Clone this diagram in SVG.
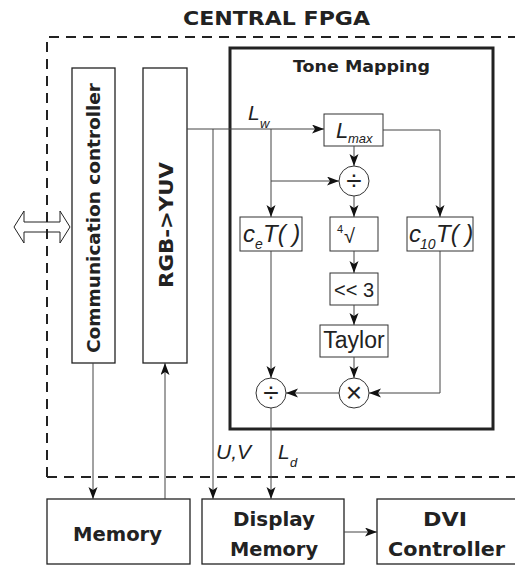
<svg xmlns="http://www.w3.org/2000/svg" width="515" height="565" viewBox="0 0 515 565">
<style>
text{font-family:"Liberation Sans",Arial,sans-serif;fill:#222}
.b{font-weight:bold;font-family:"DejaVu Sans","Liberation Sans",sans-serif}
.i{font-style:italic}
.box{fill:#fff;stroke:#222;stroke-width:1.3}
.sbox{fill:#fff;stroke:#333;stroke-width:1}
.ln{fill:none;stroke:#444;stroke-width:1}
.arr{marker-end:url(#ah)}
.dash{fill:none;stroke:#222;stroke-width:2;stroke-dasharray:10 7}
</style>
<defs>
<marker id="ah" markerUnits="userSpaceOnUse" markerWidth="13" markerHeight="10" refX="12" refY="4.5" orient="auto">
<path d="M0,0 L12,4.5 L0,9 L3,4.5 z" fill="#111"/>
</marker>
</defs>

<text class="b" x="183" y="25" font-size="20" textLength="187" lengthAdjust="spacingAndGlyphs">CENTRAL FPGA</text>

<g id="io-arrow">
<polygon points="14,227 24,211 24,222 60,222 60,211 70,227 60,243 60,232 24,232 24,243" fill="#fff" stroke="#222" stroke-width="1"/>
</g>

<g id="fpga-boundary">
<path class="dash" d="M47,477 V37 H515"/>
<path class="dash" d="M47,477 H515"/>
</g>

<g id="tone-mapping">
<rect x="230" y="48" width="263" height="381" fill="none" stroke="#222" stroke-width="3"/>
<text class="b" x="293" y="72" font-size="16" textLength="137" lengthAdjust="spacingAndGlyphs">Tone Mapping</text>
</g>

<g id="comm-controller">
<rect class="box" x="72" y="68" width="43" height="295"/>
<text class="b" transform="translate(100,218) rotate(-90)" text-anchor="middle" font-size="18" textLength="270" lengthAdjust="spacingAndGlyphs">Communication controller</text>
</g>

<g id="rgb-yuv">
<rect class="box" x="143" y="68" width="44" height="295"/>
<text class="b" transform="translate(173,225) rotate(-90)" text-anchor="middle" font-size="20" textLength="126" lengthAdjust="spacingAndGlyphs">RGB-&gt;YUV</text>
</g>

<g id="lmax">
<rect class="sbox" x="324" y="114" width="59" height="32"/>
<text class="i" x="336" y="138" font-size="22">L</text>
<text class="i" x="348" y="143" font-size="13">max</text>
</g>

<g id="div1">
<circle cx="354" cy="181" r="15" fill="#fff" stroke="#333" stroke-width="1"/>
<text x="354" y="190" font-size="28" text-anchor="middle">÷</text>
</g>

<g id="ceT">
<rect class="sbox" x="240" y="217" width="62" height="34"/>
<text class="i" x="243" y="242" font-size="24">c</text>
<text class="i" x="255" y="249" font-size="14">e</text>
<text class="i" x="263" y="242" font-size="24">T( )</text>
</g>

<g id="root4">
<rect class="sbox" x="330" y="217" width="48" height="34"/>
<text x="337" y="233" font-size="11">4</text>
<text x="344" y="243" font-size="20">√</text>
</g>

<g id="c10T">
<rect class="sbox" x="407" y="217" width="66" height="34"/>
<text class="i" x="409" y="242" font-size="24">c</text>
<text class="i" x="420" y="249" font-size="14">10</text>
<text class="i" x="436" y="242" font-size="24">T( )</text>
</g>

<g id="shift3">
<rect class="sbox" x="330" y="273" width="48" height="32"/>
<text x="354" y="297" font-size="20" text-anchor="middle">&lt;&lt; 3</text>
</g>

<g id="taylor">
<rect class="sbox" x="320" y="325" width="68" height="32"/>
<text x="354" y="348" font-size="23" text-anchor="middle">Taylor</text>
</g>

<g id="mul">
<circle cx="354" cy="393" r="15" fill="#fff" stroke="#333" stroke-width="1"/>
<text x="354" y="402" font-size="28" text-anchor="middle">×</text>
</g>

<g id="div2">
<circle cx="271" cy="393" r="15" fill="#fff" stroke="#333" stroke-width="1"/>
<text x="271" y="402" font-size="28" text-anchor="middle">÷</text>
</g>

<g id="memory">
<rect class="box" x="47" y="499" width="143" height="65"/>
<text class="b" x="73" y="541" font-size="19" textLength="89" lengthAdjust="spacingAndGlyphs">Memory</text>
</g>

<g id="display-memory">
<rect class="box" x="202" y="499" width="142" height="65"/>
<text class="b" x="233" y="526" font-size="19" textLength="82" lengthAdjust="spacingAndGlyphs">Display</text>
<text class="b" x="230" y="556" font-size="19" textLength="88" lengthAdjust="spacingAndGlyphs">Memory</text>
</g>

<g id="dvi-controller">
<rect class="box" x="377" y="499" width="145" height="65"/>
<text class="b" x="423" y="526" font-size="19" textLength="44" lengthAdjust="spacingAndGlyphs">DVI</text>
<text class="b" x="388" y="556" font-size="19" textLength="117" lengthAdjust="spacingAndGlyphs">Controller</text>
</g>

<g id="connectors">
<path class="ln arr" d="M187,129 H324"/>
<path class="ln arr" d="M213,129 V499"/>
<path class="ln arr" d="M271,129 V217"/>
<path class="ln arr" d="M271,181 H339"/>
<path class="ln arr" d="M354,146 V166"/>
<path class="ln arr" d="M354,196 V217"/>
<path class="ln arr" d="M354,251 V273"/>
<path class="ln arr" d="M354,305 V325"/>
<path class="ln arr" d="M354,357 V378"/>
<path class="ln arr" d="M383,130 H440 V217"/>
<path class="ln arr" d="M440,251 V393 H369"/>
<path class="ln arr" d="M339,393 H286"/>
<path class="ln arr" d="M271,251 V378"/>
<path class="ln arr" d="M271,408 V499"/>
<path class="ln arr" d="M93,363 V499"/>
<path class="ln arr" d="M165,499 V363"/>
<path class="ln arr" d="M344,532 H377"/>
</g>

<g id="labels">
<text class="i" x="248" y="120" font-size="21">L</text>
<text class="i" x="260" y="128" font-size="13">w</text>
<text class="i" x="216" y="459" font-size="21">U,V</text>
<text class="i" x="278" y="459" font-size="21">L</text>
<text class="i" x="290" y="467" font-size="13">d</text>
</g>
</svg>
